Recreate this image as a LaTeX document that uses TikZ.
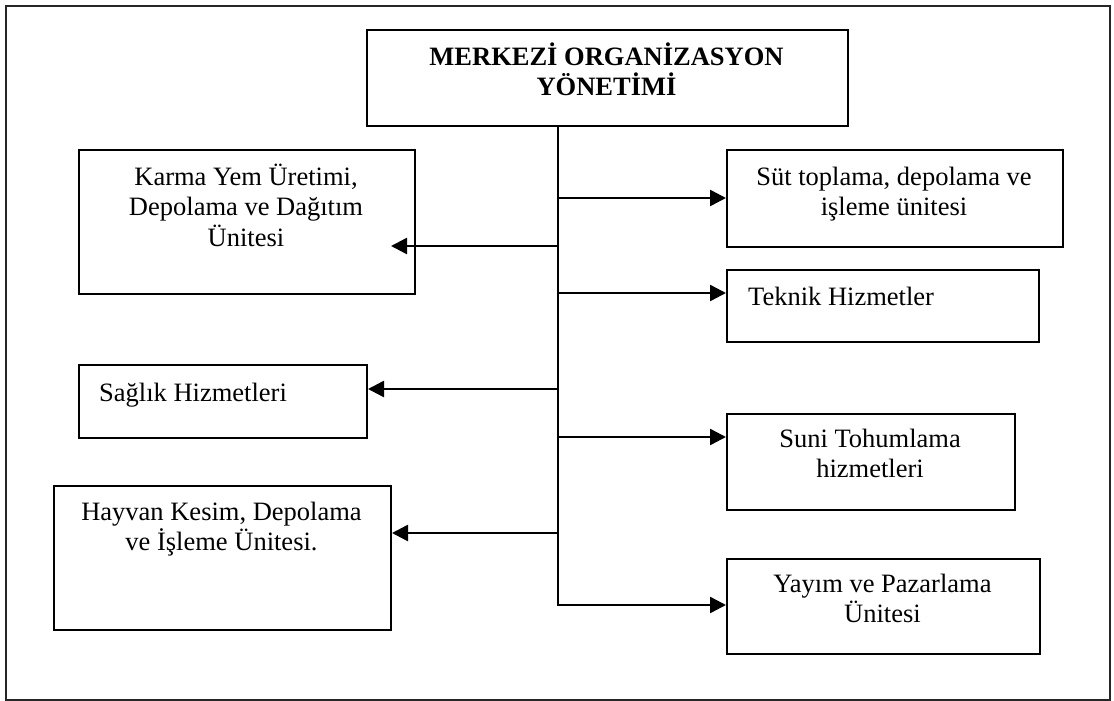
\documentclass[tikz,border=0pt]{standalone}
\usepackage{fontspec}
\setmainfont{Liberation Serif}
\usetikzlibrary{arrows.meta}
\newcommand\mystrut{\rule{0pt}{24pt}}
\begin{document}
\begin{tikzpicture}[x=1pt,y=-1pt,
  box/.style={draw=black, line width=2pt, rectangle, inner sep=0pt, anchor=north west},
  txt/.style={font=\fontsize{26.5}{30.5}\selectfont, inner sep=0pt, align=center, anchor=north},
  ttl/.style={txt, font=\fontsize{26.5}{30.5}\selectfont\bfseries},
  ltxt/.style={font=\fontsize{26.5}{30.5}\selectfont, inner sep=0pt, anchor=base west},
  conn/.style={line width=2.5pt},
  arr/.style={conn, -{Triangle[length=16pt,width=16pt]}},
  frm/.style={draw=black!85, line width=2pt, rectangle, inner sep=0pt, anchor=north west}]
\useasboundingbox (0,0) rectangle (1114,701);
\node[frm, minimum width=1104pt, minimum height=694pt] (frame) at (5,5) {};

% boxes
\node[box, minimum width=481pt, minimum height=96pt]  (top)    at (366,29)  {};
\node[box, minimum width=336pt, minimum height=144pt] (karma)  at (78,149)  {};
\node[box, minimum width=336pt, minimum height=97pt]  (sut)    at (726,149) {};
\node[box, minimum width=312pt, minimum height=72pt]  (teknik) at (726,269) {};
\node[box, minimum width=288pt, minimum height=73pt]  (saglik) at (78,364)  {};
\node[box, minimum width=288pt, minimum height=96pt]  (suni)   at (726,413) {};
\node[box, minimum width=337pt, minimum height=144pt] (hayvan) at (53,485)  {};
\node[box, minimum width=313pt, minimum height=95pt]  (yayim)  at (726,558) {};

% texts
\node[ttl] (topT) at (606.5,41) {\mystrut MERKEZİ ORGANİZASYON\\YÖNETİMİ};
\node[txt] (karmaT) at (246,161) {\mystrut Karma Yem Üretimi,\\Depolama ve Dağıtım\\Ünitesi};
\node[txt] (sutT) at (894,161) {\mystrut Süt toplama, depolama ve\\işleme ünitesi};
\node[ltxt] (teknikT) at (748,305) {Teknik Hizmetler};
\node[ltxt] (saglikT) at (99,401) {Sağlık Hizmetleri};
\node[txt] (suniT) at (870,423) {\mystrut Suni Tohumlama\\hizmetleri};
\node[txt] (hayvanT) at (221.5,496) {\mystrut Hayvan Kesim, Depolama\\ve İşleme Ünitesi.};
\node[txt] (yayimT) at (882.5,568) {\mystrut Yayım ve Pazarlama\\Ünitesi};

% connectors
\coordinate (tb) at (558,605);
\coordinate (j1) at (558,198);
\coordinate (j2) at (558,246);
\coordinate (j3) at (558,293);
\coordinate (j4) at (558,389);
\coordinate (j5) at (558,437);
\coordinate (j6) at (558,533);
\coordinate (karmatip) at (391,246);

\draw[arr] (tb |- top.south) -- (tb) -- (tb -| yayim.west);
\draw[arr] (j1) -- (j1 -| sut.west);
\draw[arr] (j2) -- (karmatip);
\draw[arr] (j3) -- (j3 -| teknik.west);
\draw[arr] (j4) -- (j4 -| saglik.east);
\draw[arr] (j5) -- (j5 -| suni.west);
\draw[arr] (j6) -- (j6 -| hayvan.east);
\end{tikzpicture}
\end{document}
